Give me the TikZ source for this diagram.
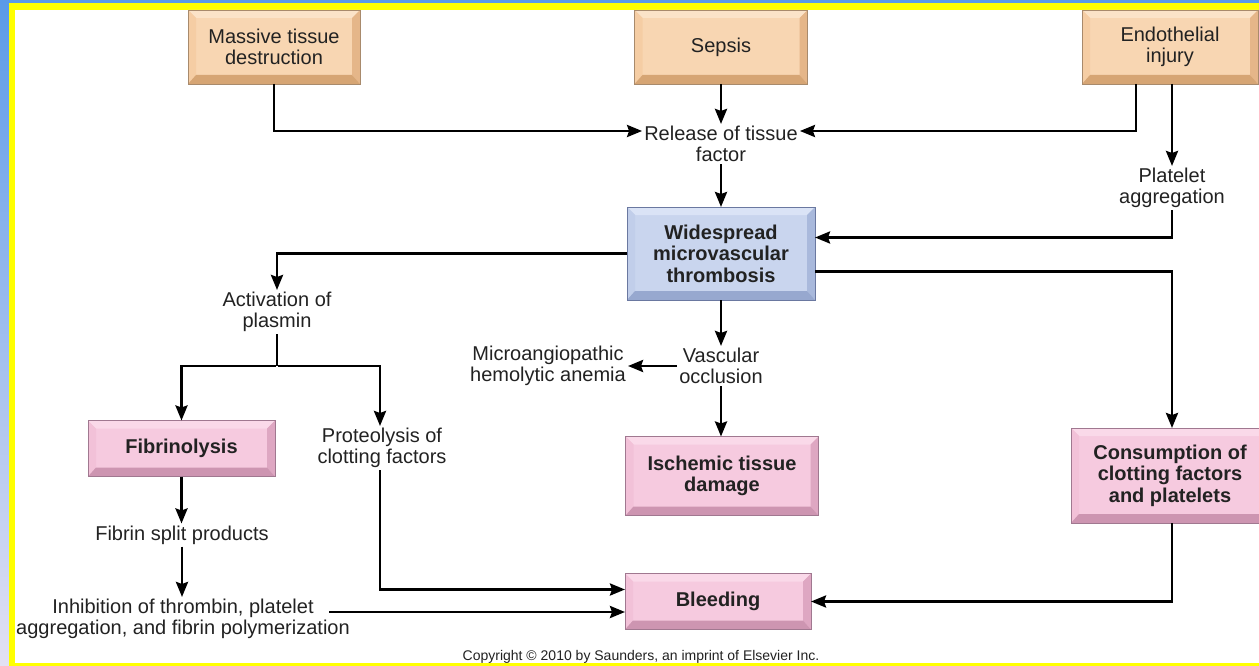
\documentclass[tikz,border=0pt]{standalone}
\usepackage{fontspec}
\setmainfont{Liberation Sans}
\usetikzlibrary{arrows.meta,calc}
\definecolor{peachF}{HTML}{F8D6B2}
\definecolor{peachT}{HTML}{FBE3C8}
\definecolor{peachL}{HTML}{F5CDA4}
\definecolor{peachR}{HTML}{E5B689}
\definecolor{peachB}{HTML}{D6A574}
\definecolor{peachO}{HTML}{A88A6C}
\definecolor{blueF}{HTML}{C9D5EE}
\definecolor{blueT}{HTML}{DAE3F6}
\definecolor{blueL}{HTML}{C1CEEA}
\definecolor{blueR}{HTML}{A9B9DC}
\definecolor{blueB}{HTML}{97A8CF}
\definecolor{blueO}{HTML}{6A78A0}
\definecolor{pinkF}{HTML}{F6CADF}
\definecolor{pinkT}{HTML}{FAD9E9}
\definecolor{pinkL}{HTML}{F2C1D8}
\definecolor{pinkR}{HTML}{DEA7C2}
\definecolor{pinkB}{HTML}{CD95B1}
\definecolor{pinkO}{HTML}{A07890}
\definecolor{frameY}{HTML}{FFFF00}
\definecolor{frameBt}{HTML}{5A9AE8}
\definecolor{frameBb}{HTML}{E3E1F3}
\definecolor{txtc}{HTML}{222222}
\newcommand\bevelbox[5]{%
  \fill[#2] (#1.north west) -- (#1.north east) -- ([shift={(-8,8)}]#1.north east) -- ([shift={(8,8)}]#1.north west) -- cycle;
  \fill[#3] (#1.north west) -- ([shift={(8,8)}]#1.north west) -- ([shift={(8,-9)}]#1.south west) -- (#1.south west) -- cycle;
  \fill[#4] (#1.north east) -- ([shift={(-8,8)}]#1.north east) -- ([shift={(-8,-9)}]#1.south east) -- (#1.south east) -- cycle;
  \fill[#5] (#1.south west) -- (#1.south east) -- ([shift={(-8,-9)}]#1.south east) -- ([shift={(8,-9)}]#1.south west) -- cycle;
}
\begin{document}
\begin{tikzpicture}[x=1pt,y=-1pt,
  txt/.style={align=center, inner sep=2pt, font=\fontsize{20}{21}\selectfont, text=txtc},
  bx/.style={align=center, inner sep=0pt, outer sep=0pt, font=\fontsize{20}{21.5}\selectfont\bfseries, text=txtc},
  peach/.style={bx, fill=peachF, font=\fontsize{20}{21}\selectfont},
  bluebx/.style={bx, fill=blueF},
  pinkbx/.style={bx, fill=pinkF},
  ln/.style={line width=2.8pt, black},
  arr/.style={ln, -{Stealth[length=15pt,width=12pt,inset=2pt]}}]
\useasboundingbox (0,0) rectangle (1259,666);
\begin{scope}
\clip (0,0) rectangle (1259,666);
% frame
\shade[top color=frameBt, bottom color=frameBb] (0,0) rectangle (1259,666);
\fill[frameY] (9,3) rectangle (1270,670);
\fill[white] (15,10) rectangle (1270,663);

% boxes
\node[peach, minimum width=172pt, minimum height=74pt] (massive) at (274,47) {Massive tissue\\destruction};
\bevelbox{massive}{peachT}{peachL}{peachR}{peachB}
\draw[peachO, line width=0.6pt] (massive.north west) rectangle (massive.south east);

\node[peach, minimum width=173pt, minimum height=74pt] (sepsis) at (721,47) {Sepsis};
\bevelbox{sepsis}{peachT}{peachL}{peachR}{peachB}
\draw[peachO, line width=0.6pt] (sepsis.north west) rectangle (sepsis.south east);

\node[peach, minimum width=176pt, minimum height=74pt] (endo) at (1170,47) {Endothelial\\injury};
\bevelbox{endo}{peachT}{peachL}{peachR}{peachB}
\draw[peachO, line width=0.6pt] (endo.north west) rectangle (endo.south east);

\node[bluebx, minimum width=188pt, minimum height=93pt] (wide) at (721,253.5) {Widespread\\microvascular\\thrombosis};
\bevelbox{wide}{blueT}{blueL}{blueR}{blueB}
\draw[blueO, line width=0.6pt] (wide.north west) rectangle (wide.south east);

\node[pinkbx, minimum width=187pt, minimum height=56pt] (fibr) at (181.5,448.5) {Fibrinolysis};
\bevelbox{fibr}{pinkT}{pinkL}{pinkR}{pinkB}
\draw[pinkO, line width=0.6pt] (fibr.north west) rectangle (fibr.south east);

\node[pinkbx, minimum width=193pt, minimum height=79pt] (isch) at (722,476) {Ischemic tissue\\damage};
\bevelbox{isch}{pinkT}{pinkL}{pinkR}{pinkB}
\draw[pinkO, line width=0.6pt] (isch.north west) rectangle (isch.south east);

\node[pinkbx, minimum width=198pt, minimum height=95pt] (cons) at (1170,475.5) {Consumption of\\clotting factors\\and platelets};
\bevelbox{cons}{pinkT}{pinkL}{pinkR}{pinkB}
\draw[pinkO, line width=0.6pt] (cons.north west) rectangle (cons.south east);

\node[pinkbx, minimum width=186pt, minimum height=56pt] (bleed) at (718,601.5) {Bleeding};
\bevelbox{bleed}{pinkT}{pinkL}{pinkR}{pinkB}
\draw[pinkO, line width=0.6pt] (bleed.north west) rectangle (bleed.south east);

% text nodes
\node[txt] (release) at (721,144) {Release of tissue\\factor};
\node[txt] (platelet) at (1172,188) {Platelet\\aggregation};
\node[txt] (activation) at (277,312) {Activation of\\plasmin};
\node[txt] (vascular) at (721,366) {Vascular\\occlusion};
\node[txt] (micro) at (548,366) {Microangiopathic\\hemolytic anemia};
\node[txt] (proteo) at (382,448) {Proteolysis of\\clotting factors};
\node[txt] (fsp) at (182,535) {Fibrin split products};
\node[txt] (inhib) at (183,619) {Inhibition of thrombin, platelet\\aggregation, and fibrin polymerization};
\node[txt, font=\fontsize{14}{15}\selectfont] (copy) at (641,657) {Copyright \textcopyright\ 2010 by Saunders, an imprint of Elsevier Inc.};

% connectors
\draw[arr] (massive.south) |- ([yshift=13pt]release.west);
\draw[arr] (sepsis.south) -- (sepsis.south |- release.north);
\draw[arr] ([xshift=-34pt]endo.south) |- ([yshift=13pt]release.east);
\draw[arr] ([xshift=2pt]endo.south) -- ([xshift=2pt]endo.south |- platelet.north);
\draw[arr] (release.south) -- (release.south |- wide.north);
\draw[arr] (platelet.south) |- ([yshift=16pt]wide.east);
\draw[arr] (wide.west) -| (activation.north);
\draw[arr] ([yshift=-18pt]wide.east) -| ([xshift=2pt]cons.north);
\draw[arr] (wide.south) -- (wide.south |- vascular.north);
\draw[arr] (vascular.west) -- (micro.east);
\draw[arr] (vascular.south) -- (vascular.south |- isch.north);
\draw[ln] (activation.south) -- ++(0,32) coordinate (split);
\draw[arr] ([xshift=-1.4pt]split) -| (fibr.north);
\draw[arr] ([xshift=1.4pt]split) -| ([xshift=-2pt]proteo.north);
\draw[arr] (fibr.south) -- (fibr.south |- fsp.north);
\draw[arr] (fsp.south) -- (fsp.south |- inhib.north);
\coordinate (inhibout) at (329,612);
\draw[arr] (inhibout) -- (inhibout -| bleed.west);
\draw[arr] ([xshift=-2pt]proteo.south) |- ([yshift=12pt]bleed.west);
\draw[arr] ([xshift=2pt]cons.south) |- (bleed.east);
\end{scope}
\end{tikzpicture}
\end{document}
